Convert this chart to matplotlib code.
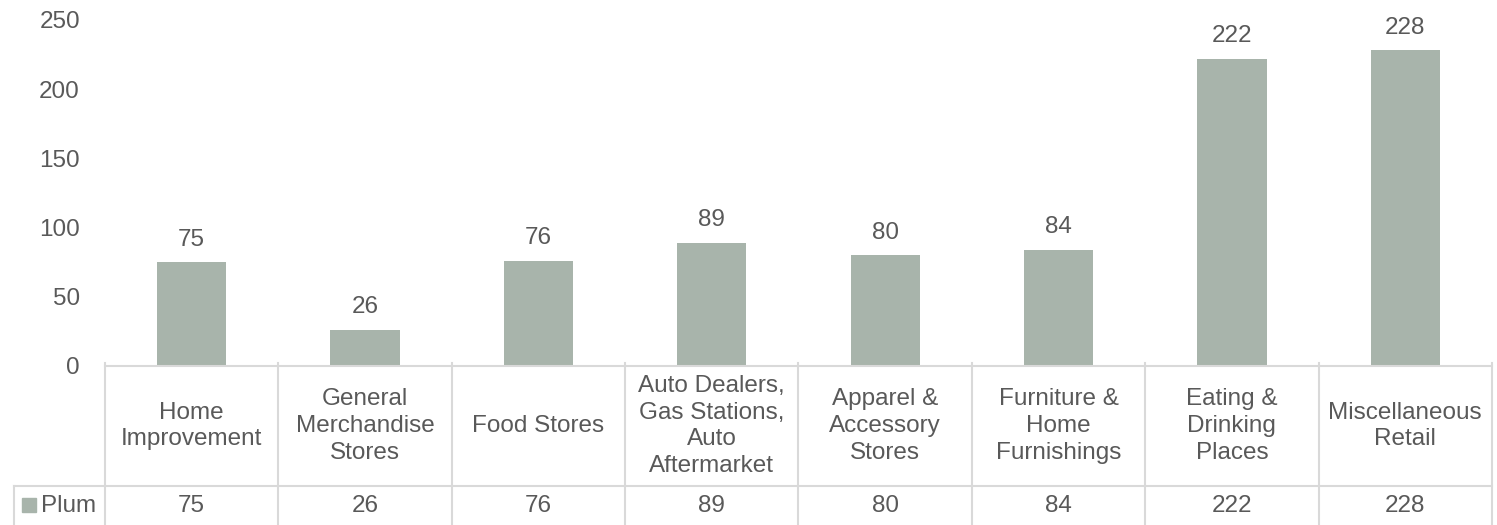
import matplotlib.pyplot as plt
from matplotlib.transforms import blended_transform_factory
from matplotlib.patches import Rectangle

categories = ["Home\nImprovement", "General\nMerchandise\nStores", "Food Stores",
              "Auto Dealers,\nGas Stations,\nAuto\nAftermarket", "Apparel &\nAccessory\nStores",
              "Furniture &\nHome\nFurnishings", "Eating &\nDrinking\nPlaces",
              "Miscellaneous\nRetail"]
series_name = "Plum"
values = [75, 26, 76, 89, 80, 84, 222, 228]
yticks = [0, 50, 100, 150, 200, 250]

bar_color = "#A8B4AB"
text_color = "#595959"
line_color = "#D9D9D9"
fs = 17.5

plt.rcParams['font.family'] = ['Liberation Sans', 'DejaVu Sans']

W, H = 1497, 525
fig = plt.figure(figsize=(W / 100, H / 100), dpi=100)
# axes: x 105..1492 px, y 20..366 px
ax = fig.add_axes([105 / W, (H - 366) / H, 1387 / W, 346 / H])
col_px = 1387 / 8

x = list(range(len(values)))
ax.bar(x, values, width=0.4, color=bar_color)
for xi, v in zip(x, values):
    ax.annotate(str(v), (xi, v), xytext=(0, 12), textcoords='offset points',
                ha='center', va='baseline', fontsize=fs, color=text_color)

ax.set_xlim(-0.5, 7.5)
ax.set_ylim(0, 250)
ax.set_yticks(yticks)
ax.set_xticks([])
ax.tick_params(axis='y', length=0, pad=18, labelsize=fs, labelcolor=text_color)
for s in ['top', 'right', 'left']:
    ax.spines[s].set_visible(False)
ax.spines['bottom'].set_color(line_color)
ax.spines['bottom'].set_linewidth(1.5)

# data table below the axis
trans = blended_transform_factory(ax.transData, ax.transAxes)
hb = -120 / 346
db = -175 / 346
xl = -0.5 - (105 - 14) / col_px
lkw = dict(color=line_color, lw=1.5, transform=trans, clip_on=False)
for i in range(len(values) + 1):
    ax.plot([i - 0.5, i - 0.5], [0.008, db], **lkw)
ax.plot([xl, xl], [hb, db], **lkw)
ax.plot([xl, 7.5], [hb, hb], **lkw)

for i, cat in enumerate(categories):
    ax.text(i, -60 / 346, cat, transform=trans, ha='center', va='center',
            fontsize=fs, color=text_color, linespacing=1.28)
    ax.text(i, -140 / 346, str(values[i]), transform=trans, ha='center', va='center',
            fontsize=fs, color=text_color)

def pxx(p):
    return -0.5 + (p - 105) / col_px

ax.add_patch(Rectangle((pxx(22), -146 / 346), 14 / col_px, 14 / 346,
                       transform=trans, color=bar_color, clip_on=False))
ax.text(pxx(41), -140 / 346, series_name, transform=trans, ha='left', va='center',
        fontsize=fs, color=text_color)

fig.savefig("out.png", dpi=100)
